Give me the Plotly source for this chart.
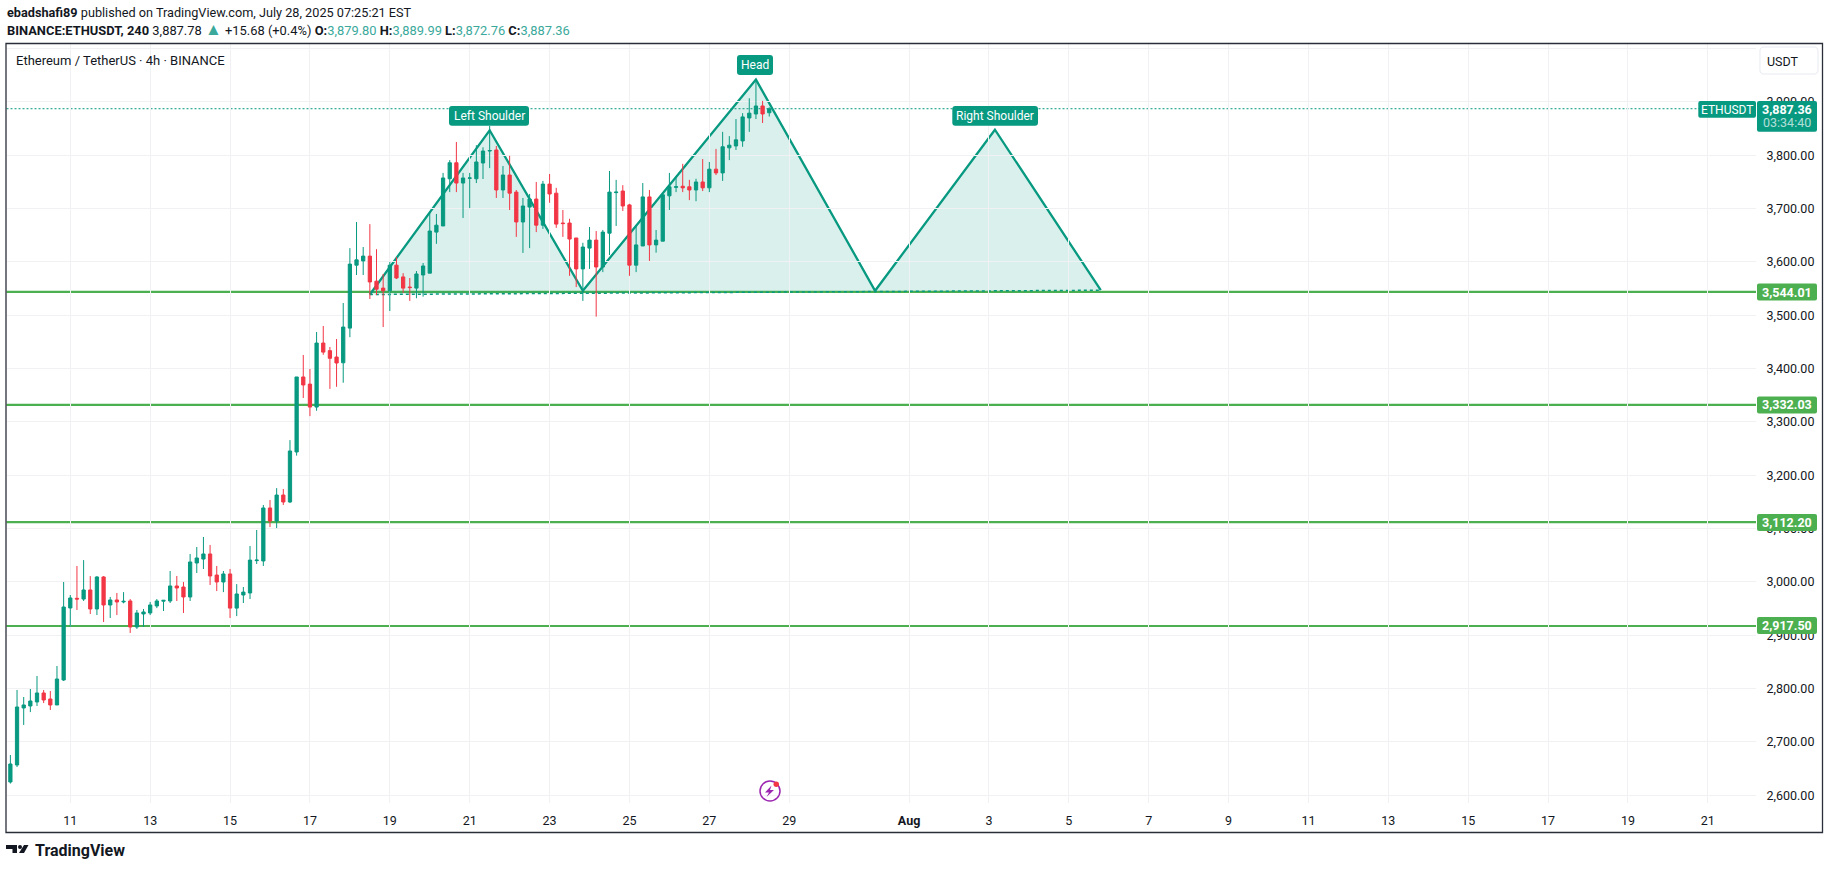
import pandas as pd
import plotly.graph_objects as go

W = 1829
H = 869
FONT = "Roboto"
TEAL = "#089981"
RED = "#f23645"
GREEN = "#4caf50"
INK = "#131722"
GRID = "#f1f1f3"

bar_start = "2025-07-09 12:00"

opens = [2625, 2656.9, 2763.75, 2767.5, 2775, 2791.9, 2780.6, 2769.4, 2816.25, 2951.25,
         2969.4, 2968, 2985, 2949.4, 3009.4, 2956.9, 2966.25, 2962.5, 2964.4, 2915.6,
         2940, 2941.9, 2955, 2964, 2964.4, 2992.5, 2990.6, 2971.9, 3035.6, 3043,
         3052.5, 3013, 3000, 3015, 2951, 2975.6, 2979.4, 3040, 3039.4, 3138.75,
         3114.4, 3163, 3150, 3243.75, 3384.4, 3371, 3328, 3448, 3433.75, 3421.8,
         3411, 3476, 3594, 3602, 3611, 3564, 3551, 3546, 3594, 3572,
         3553, 3551, 3575.6, 3579, 3656, 3667.5, 3756, 3786, 3748, 3757,
         3756, 3785.6, 3808, 3810, 3735, 3763, 3731, 3675, 3703, 3718,
         3669, 3746, 3729, 3673, 3673, 3645, 3587, 3626, 3641, 3590.6,
         3654, 3730, 3733, 3707, 3594, 3630, 3722, 3632, 3639, 3724,
         3740, 3742, 3741, 3735, 3750, 3739, 3774, 3767, 3814, 3817.5,
         3827, 3870, 3877.5, 3892.5, 3879.8]
highs = [2675.6, 2797.5, 2784.4, 2799.4, 2823.75, 2797.5, 2795.6, 2842.5, 3000, 2975.6,
         3030, 3041, 3011, 3011, 3011, 2971.9, 2979.4, 2981, 2968, 2947.5,
         2949.4, 2962.5, 2968, 2966, 3020.6, 3011.25, 3000, 3052.5, 3065.6, 3084.4,
         3069.4, 3030, 3020.6, 3024.4, 2996, 2990.6, 3067.5, 3097.5, 3144.4, 3153.75,
         3176, 3174.4, 3266, 3384.4, 3425.6, 3399.4, 3468.75, 3480, 3440.6, 3455.6,
         3523, 3626, 3675, 3628, 3671, 3624, 3577.5, 3600, 3609, 3579,
         3570, 3583, 3598, 3692, 3690, 3767, 3791, 3825, 3767, 3767,
         3819, 3815, 3855, 3817.5, 3780, 3799, 3735, 3720, 3727.5, 3750,
         3752, 3765, 3739, 3697.5, 3681, 3645, 3636, 3665.6, 3658, 3660,
         3770.6, 3754, 3744, 3709, 3669, 3748, 3735, 3660, 3726, 3767,
         3761, 3784, 3754, 3756, 3793, 3787.5, 3812, 3844, 3836, 3868,
         3879, 3907, 3942, 3902, 3889.99]
lows = [2622, 2653, 2731.9, 2756, 2767.5, 2773, 2760, 2769.4, 2814.4, 2915.6,
        2947.5, 2964.4, 2940, 2938, 2925, 2932.5, 2938, 2960, 2904.4, 2912,
        2915.6, 2938, 2951, 2945.6, 2960.6, 2964.4, 2941.9, 2964.4, 3016.9, 3024.4,
        2994.4, 2983, 2981, 2932.5, 2936, 2960.6, 2968, 3033.75, 3030, 3103,
        3101, 3144.4, 3148, 3236.9, 3345, 3311, 3321, 3426, 3362, 3366,
        3373.6, 3459, 3575.6, 3575.6, 3530.6, 3538, 3478, 3508, 3568, 3542,
        3527, 3532, 3535, 3579, 3634, 3667.5, 3731, 3731, 3682.5, 3701,
        3748, 3755.6, 3776, 3720, 3720, 3697.5, 3647, 3617, 3626, 3656,
        3662, 3711, 3664, 3647, 3574, 3553, 3527, 3587, 3497.5, 3581,
        3613, 3667.5, 3695.6, 3574, 3581, 3630, 3602, 3617.5, 3639, 3697.5,
        3731, 3731, 3716, 3714, 3733, 3731, 3763, 3752, 3791, 3810,
        3816, 3844, 3868, 3860.6, 3872.76]
closes = [2658.75, 2765.6, 2769.4, 2776.9, 2791.9, 2778.75, 2769.4, 2818.1, 2953.1, 2970,
          2968, 2985, 2949.4, 3009.4, 2956.9, 2966.25, 2962.5, 2963.75, 2915.6, 2941.9,
          2943.75, 2956.9, 2964.4, 2965.6, 2992.5, 2988.75, 2971.9, 3037.5, 3045, 3052.5,
          3011.25, 3000, 3015, 2951, 2977.5, 2981, 3041, 3041, 3138.75, 3114.4,
          3163, 3150, 3245.6, 3384.4, 3369.4, 3328, 3448, 3431, 3419.4, 3410.6,
          3478, 3596, 3604, 3611, 3562.5, 3549, 3546, 3594, 3570, 3551,
          3552, 3577.5, 3592.5, 3658, 3669, 3757.5, 3786, 3748, 3757.5, 3757.5,
          3787.5, 3808, 3809, 3735, 3763, 3729, 3675, 3705, 3718, 3669,
          3746, 3727.5, 3671, 3672, 3643, 3587, 3628, 3641, 3590.6, 3656,
          3731, 3731, 3705, 3594, 3632, 3722, 3632, 3641, 3726, 3741,
          3741, 3739, 3735, 3750, 3739, 3774, 3767, 3816, 3819, 3829,
          3872, 3879, 3892.5, 3877.5, 3887.36]

level_prices = [3544.01, 3332.03, 3112.20, 2917.50]
last_price = 3887.36

pattern_times = ["2025-07-18_12:00", "2025-07-21_12:00", "2025-07-23_20:00", "2025-07-28_04:00",
                 "2025-07-31_03:36", "2025-08-03_03:36", "2025-08-05_19:12"]
pattern_prices = [3539, 3847, 3546, 3942, 3546, 3848, 3547]

x_tick_dates = ["2025-07-11", "2025-07-13", "2025-07-15", "2025-07-17", "2025-07-19", "2025-07-21",
                "2025-07-23", "2025-07-25", "2025-07-27", "2025-07-29", "2025-08-01", "2025-08-03",
                "2025-08-05", "2025-08-07", "2025-08-09", "2025-08-11", "2025-08-13", "2025-08-15",
                "2025-08-17", "2025-08-19", "2025-08-21"]
x_tick_labels = ["11", "13", "15", "17", "19", "21", "23", "25", "27", "29", "<b>Aug</b>", "3",
                 "5", "7", "9", "11", "13", "15", "17", "19", "21"]
y_tick_values = list(range(2600, 4001, 100))
y_tick_labels = [f"{v:,.2f}" if v < 4000 else "" for v in y_tick_values]


def px(x):
    return x / W


def py(y):
    return 1 - y / H


def round_rect(x0, y0, x1, y1, r):
    # svg path in paper units, arguments are page pixels
    pts = [("M", x0 + r, y0), ("L", x1 - r, y0), ("Q", x1, y0, x1, y0 + r), ("L", x1, y1 - r),
           ("Q", x1, y1, x1 - r, y1), ("L", x0 + r, y1), ("Q", x0, y1, x0, y1 - r),
           ("L", x0, y0 + r), ("Q", x0, y0, x0 + r, y0)]
    out = []
    for p in pts:
        coords = [f"{px(p[i]):.5f},{py(p[i + 1]):.5f}" for i in range(1, len(p), 2)]
        out.append(p[0] + " " + " ".join(coords))
    return " ".join(out) + " Z"


def poly(points):
    return "M " + " L ".join(f"{px(x):.5f},{py(y):.5f}" for x, y in points) + " Z"


def tag(fig, x0, y0, x1, y1, color, r=3, line=None):
    fig.add_shape(type="path", xref="paper", yref="paper", path=round_rect(x0, y0, x1, y1, r),
                  fillcolor=color, line=dict(width=1 if line else 0, color=line or color), layer="above")


def label(fig, x, y, text, size=12, color=INK, anchor="center", family=FONT):
    fig.add_annotation(xref="paper", yref="paper", x=px(x), y=py(y), text=text, showarrow=False,
                       xanchor=anchor, yanchor="middle", align="left", borderpad=0,
                       font=dict(family=family, size=size, color=color))


times = pd.date_range(bar_start, periods=len(closes), freq="4h")

fig = go.Figure()
fig.add_trace(go.Candlestick(
    x=times, open=opens, high=highs, low=lows, close=closes,
    increasing=dict(line=dict(color=TEAL, width=1), fillcolor=TEAL),
    decreasing=dict(line=dict(color=RED, width=1), fillcolor=RED),
    hoverinfo="skip", showlegend=False,
))

# head and shoulders drawing sits under the candles
pattern_pts = [f"{t},{p}" for t, p in zip(pattern_times, pattern_prices)]
fig.add_shape(type="path", path="M " + " L ".join(pattern_pts) + " Z", layer="below",
              fillcolor="rgba(8,153,129,0.15)", line=dict(width=0))
fig.add_shape(type="path", path="M " + " L ".join(pattern_pts), layer="below",
              line=dict(color=TEAL, width=2.3))
fig.add_shape(type="line", x0=pattern_times[0].replace("_", " "), y0=pattern_prices[0],
              x1=pattern_times[-1].replace("_", " "), y1=pattern_prices[-1], layer="below",
              line=dict(color=TEAL, width=1.5, dash="dot"))

for price in level_prices:
    fig.add_shape(type="line", xref="x domain", x0=0, x1=1, y0=price, y1=price, layer="below",
                  line=dict(color=GREEN, width=2.2))
fig.add_shape(type="line", xref="x domain", x0=0, x1=1, y0=last_price, y1=last_price, layer="below",
              line=dict(color=TEAL, width=1, dash="2px,2px"))

fig.update_layout(
    width=W,
    height=H,
    margin=dict(l=0, r=0, t=0, b=0),
    paper_bgcolor="white",
    plot_bgcolor="white",
    showlegend=False,
    font=dict(family=FONT, color=INK),
    xaxis=dict(
        domain=[px(6.5), px(1756)],
        type="date",
        range=["2025-07-09 09:40", "2025-08-22 04:56"],
        rangeslider=dict(visible=False),
        tickmode="array",
        tickvals=x_tick_dates,
        ticktext=x_tick_labels,
        tickangle=0,
        tickfont=dict(family=FONT, size=12.5, color=INK),
        ticks="outside",
        ticklen=6,
        tickcolor="rgba(0,0,0,0)",
        showgrid=True,
        gridcolor=GRID,
        gridwidth=1,
        zeroline=False,
        showline=False,
    ),
    yaxis=dict(
        domain=[py(803), py(44)],
        side="right",
        range=[2585.6, 4008.7],
        tickmode="array",
        tickvals=y_tick_values,
        ticktext=y_tick_labels,
        tickfont=dict(family=FONT, size=12.5, color=INK),
        ticks="outside",
        ticklen=7,
        tickcolor="rgba(0,0,0,0)",
        showgrid=True,
        gridcolor=GRID,
        gridwidth=1,
        zeroline=False,
        showline=False,
    ),
)

# header lines
label(fig, 6, 12.5, "<b>ebadshafi89</b> published on TradingView.com, July 28, 2025 07:25:21 EST", 12.7, anchor="left")
val = '<span style="color:#3aa99b">%s</span>'
arrow = '<span style="color:#3aa99b;font-size:17px">\u25b2</span>'
label(fig, 6, 29.5,
      "<b>BINANCE:ETHUSDT, 240</b> 3,887.78 " + arrow + " +15.68 (+0.4%) <b>O:</b>" + val % "3,879.80"
      + " <b>H:</b>" + val % "3,889.99" + " <b>L:</b>" + val % "3,872.76" + " <b>C:</b>" + val % "3,887.36",
      12.9, anchor="left")
label(fig, 15, 60.5, "Ethereum / TetherUS \u00b7 4h \u00b7 BINANCE", 13, anchor="left")

# frame around chart and price scale
fig.add_shape(type="rect", xref="paper", yref="paper", x0=px(6), y0=py(832.5), x1=px(1822.5), y1=py(43.5),
              line=dict(color="#2a2e39", width=1.3), layer="above")

# pattern labels
for x0, y0, x1, y1, text in [(449, 106, 529, 125.7, "Left Shoulder"), (737, 55, 773, 75, "Head"),
                             (952.3, 106, 1038, 125.7, "Right Shoulder")]:
    tag(fig, x0, y0, x1, y1, TEAL)
    label(fig, (x0 + x1) / 2, (y0 + y1) / 2, text, 12, "white")

# price scale tags
tag(fig, 1760, 47, 1818, 74, "white", r=4, line="#e8eaf0")
label(fig, 1782.7, 61.5, "USDT", 12.5)
tag(fig, 1698.3, 101, 1756, 117.7, TEAL, r=2)
label(fig, 1727, 109.5, "ETHUSDT", 12, "white")
tag(fig, 1757, 101, 1817, 131.7, TEAL, r=2)
label(fig, 1787, 109, f"<b>{last_price:,.2f}</b>", 12.5, "white")
label(fig, 1787, 123, "03:34:40", 12.5, "rgba(255,255,255,0.7)")
for price, yc in zip(level_prices, [292, 405, 522.5, 625.5]):
    tag(fig, 1757, yc - 8.4, 1817, yc + 8.4, GREEN, r=2)
    label(fig, 1787, yc, f"<b>{price:,.2f}</b>", 12.5, "white")

# bolt badge
fig.add_shape(type="circle", xref="paper", yref="paper", x0=px(760), x1=px(780), y0=py(801), y1=py(781),
              line=dict(color="#9c27b0", width=1.5), layer="above")
fig.add_shape(type="path", xref="paper", yref="paper", layer="above", fillcolor="#9c27b0", line=dict(width=0),
              path=poly([(771.5, 785.5), (765, 792.5), (769, 792.5), (766.5, 797), (774, 790), (770, 790)]))
fig.add_shape(type="circle", xref="paper", yref="paper", x0=px(773.5), x1=px(779), y0=py(787), y1=py(781.5),
              fillcolor=RED, line=dict(color=RED, width=0), layer="above")

# TradingView mark
LOGO = "#131722"
for pts in [[(6, 845), (17, 845), (17, 853), (12.5, 853), (12.5, 849), (6, 849)],
            [(24, 845), (28.5, 845), (24, 853), (19, 853)]]:
    fig.add_shape(type="path", xref="paper", yref="paper", path=poly(pts), fillcolor=LOGO,
                  line=dict(width=0), layer="above")
fig.add_shape(type="circle", xref="paper", yref="paper", x0=px(18), x1=px(22), y0=py(849), y1=py(845),
              fillcolor=LOGO, line=dict(width=0), layer="above")
label(fig, 33.5, 850.5, "<b>TradingView</b>", 16, LOGO, anchor="left")

fig.write_html("out.html", config=dict(displayModeBar=False),
               post_script="document.body.style.margin='0';")
